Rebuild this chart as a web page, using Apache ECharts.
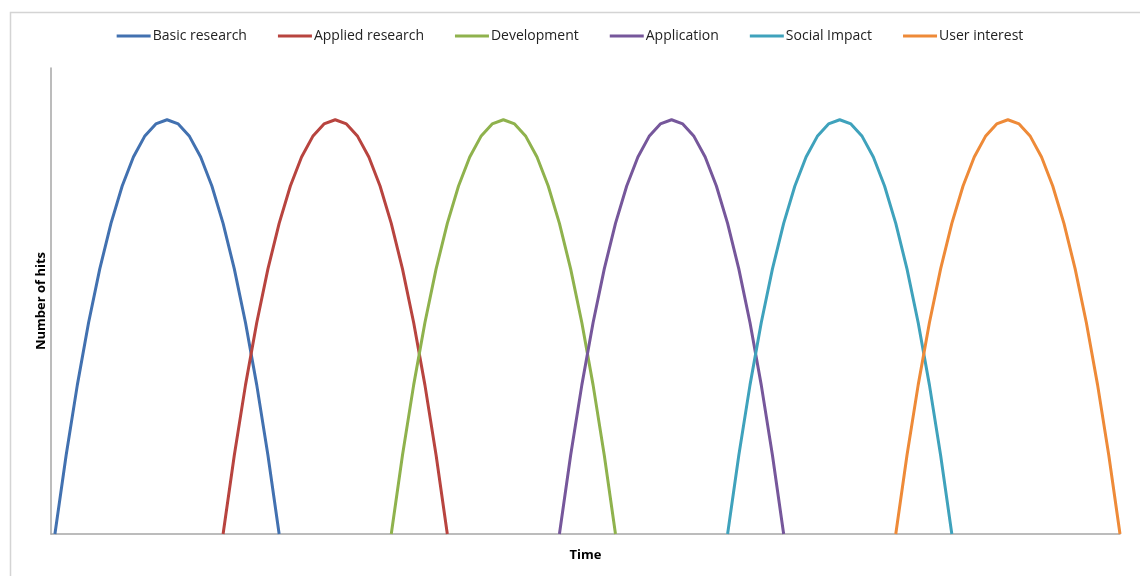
<!DOCTYPE html>
<html>
<head>
<meta charset="utf-8">
<script src="https://cdn.jsdelivr.net/npm/echarts@6/dist/echarts.min.js"></script>
<style>html,body{margin:0;padding:0;background:#fff;}#c{width:1140px;height:576px;}</style>
</head>
<body>
<div id="c"></div>
<script>
// Series names
const seriesNames = ['Basic research', 'Applied research', 'Development', 'Application', 'Social Impact', 'User interest'];
// Start time of each wave (time units) and sampling step
const seriesStart = [0, 3, 6, 9, 12, 15];
const timeStep = 0.2;
const basicResearch   = [0, 1.52, 2.88, 4.08, 5.12, 6.0, 6.72, 7.28, 7.68, 7.92, 8.0, 7.92, 7.68, 7.28, 6.72, 6.0, 5.12, 4.08, 2.88, 1.52, 0];
const appliedResearch = [0, 1.52, 2.88, 4.08, 5.12, 6.0, 6.72, 7.28, 7.68, 7.92, 8.0, 7.92, 7.68, 7.28, 6.72, 6.0, 5.12, 4.08, 2.88, 1.52, 0];
const development     = [0, 1.52, 2.88, 4.08, 5.12, 6.0, 6.72, 7.28, 7.68, 7.92, 8.0, 7.92, 7.68, 7.28, 6.72, 6.0, 5.12, 4.08, 2.88, 1.52, 0];
const application     = [0, 1.52, 2.88, 4.08, 5.12, 6.0, 6.72, 7.28, 7.68, 7.92, 8.0, 7.92, 7.68, 7.28, 6.72, 6.0, 5.12, 4.08, 2.88, 1.52, 0];
const socialImpact    = [0, 1.52, 2.88, 4.08, 5.12, 6.0, 6.72, 7.28, 7.68, 7.92, 8.0, 7.92, 7.68, 7.28, 6.72, 6.0, 5.12, 4.08, 2.88, 1.52, 0];
const userInterest    = [0, 1.52, 2.88, 4.08, 5.12, 6.0, 6.72, 7.28, 7.68, 7.92, 8.0, 7.92, 7.68, 7.28, 6.72, 6.0, 5.12, 4.08, 2.88, 1.52, 0];
const seriesValues = [basicResearch, appliedResearch, development, application, socialImpact, userInterest];
const colors = ['#4271B0', '#B8443F', '#8FB24D', '#76579B', '#3FA2BC', '#EE8A38'];

const chart = echarts.init(document.getElementById('c'), null, {renderer: 'canvas'});
const series = seriesNames.map((name, k) => ({
  name: name,
  type: 'line',
  showSymbol: false,
  symbol: 'none',
  smooth: false,
  lineStyle: {width: 3, color: colors[k]},
  itemStyle: {color: colors[k]},
  data: seriesValues[k].map((v, i) => [seriesStart[k] + i * timeStep, v])
}));

chart.setOption({
  animation: false,
  backgroundColor: '#fff',
  textStyle: {fontFamily: 'Open Sans'},
  graphic: [{
    type: 'rect', left: 8, top: 10, z: -1,
    shape: {width: 1200, height: 700},
    style: {fill: 'none', stroke: '#d4d4d4', lineWidth: 1.5}
  }],
  legend: {
    top: 24,
    left: 'center',
    itemWidth: 34,
    itemHeight: 3,
    itemGap: 31,
    icon: 'rect',
    textStyle: {fontFamily: 'Open Sans', fontSize: 14, color: '#222', padding: [0, 0, 0, -3]},
    data: seriesNames
  },
  grid: {left: 51, right: 20, top: 68, bottom: 42, containLabel: false},
  xAxis: {
    type: 'value',
    min: -0.07,
    max: 19,
    name: 'Time',
    nameLocation: 'middle',
    nameGap: 15,
    nameTextStyle: {fontFamily: 'Open Sans', fontWeight: 'bold', fontSize: 13, color: '#000'},
    axisLine: {show: true, onZero: false, lineStyle: {color: '#a6a6a6', width: 1.5}},
    axisTick: {show: false},
    axisLabel: {show: false},
    splitLine: {show: false}
  },
  yAxis: {
    type: 'value',
    min: 0,
    max: 9,
    name: 'Number of hits',
    nameLocation: 'middle',
    nameGap: 3,
    nameRotate: 90,
    nameTextStyle: {fontFamily: 'Open Sans', fontWeight: 'bold', fontSize: 13, color: '#000'},
    axisLine: {show: true, onZero: false, lineStyle: {color: '#a6a6a6', width: 1.5}},
    axisTick: {show: false},
    axisLabel: {show: false},
    splitLine: {show: false}
  },
  series: series
});
</script>
</body>
</html>
